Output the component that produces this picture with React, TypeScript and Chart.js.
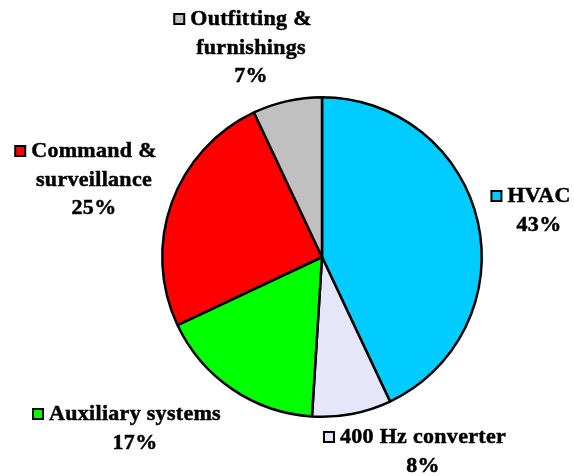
import React, { useEffect, useRef } from "react";
import { Chart, registerables } from "chart.js";

Chart.register(...registerables);

const categories = ["HVAC", "400 Hz converter", "Auxiliary systems", "Command & surveillance", "Outfitting & furnishings"];
const shares = [43, 8, 17, 25, 7];
const colors = ["#00CCFF", "#E6E6FA", "#00FF00", "#FF0000", "#C0C0C0"];
const labelLines = [
  ["HVAC"],
  ["400 Hz converter"],
  ["Auxiliary systems"],
  ["Command &", "surveillance"],
  ["Outfitting &", "furnishings"],
];
// label anchor: centre x, first baseline y
const labelAnchors = [
  [539, 202],
  [423, 443],
  [135, 420],
  [94, 157],
  [251, 25],
];

const FONT = "bold 22px 'Liberation Serif', 'Times New Roman', serif";

const labelPlugin = {
  id: "sliceLabels",
  afterDraw(chart: any) {
    const ctx = chart.ctx;
    ctx.save();
    ctx.font = FONT;
    (ctx as any).letterSpacing = "0.3px";
    ctx.fillStyle = "#000";
    ctx.strokeStyle = "#000";
    ctx.textBaseline = "alphabetic";
    ctx.textAlign = "center";
    const lh = 28.5;
    labelLines.forEach((lines, i) => {
      const [cx, by] = labelAnchors[i];
      const all = [...lines, shares[i] + "%"];
      all.forEach((t, j) => {
        const y = by + j * lh;
        ctx.lineWidth = 0.5;
        ctx.fillText(t, cx, y);
        ctx.strokeText(t, cx, y);
        if (j === 0) {
          const w = ctx.measureText(t).width;
          const x0 = cx - w / 2;
          const s = 10;
          ctx.fillStyle = colors[i];
          ctx.fillRect(x0 - 6 - s, y - s - 1, s, s);
          ctx.lineWidth = 2;
          ctx.strokeRect(x0 - 6 - s, y - s - 1, s, s);
          ctx.fillStyle = "#000";
        }
      });
    });
    ctx.restore();
  },
};

export default function App() {
  const ref = useRef<HTMLCanvasElement | null>(null);
  useEffect(() => {
    if (!ref.current) return;
    const chart = new Chart(ref.current, {
      type: "pie",
      data: {
        labels: categories,
        datasets: [
          {
            data: shares,
            backgroundColor: colors,
            borderColor: "#000",
            borderWidth: 2.5,
          },
        ],
      },
      options: {
        responsive: false,
        animation: false,
        layout: { padding: { left: 161, right: 91, top: 96, bottom: 58 } },
        plugins: { legend: { display: false }, tooltip: { enabled: false } },
      },
      plugins: [labelPlugin],
    });
    let alive = true;
    if ((document as any).fonts && (document as any).fonts.load) {
      (document as any).fonts.load(FONT).then(() => {
        if (alive) chart.draw();
      });
    }
    return () => {
      alive = false;
      chart.destroy();
    };
  }, []);
  return (
    <div style={{ position: "fixed", left: 0, top: 0, width: 574, height: 476, background: "#fff" }}>
      <canvas ref={ref} width={574} height={476} />
    </div>
  );
}
